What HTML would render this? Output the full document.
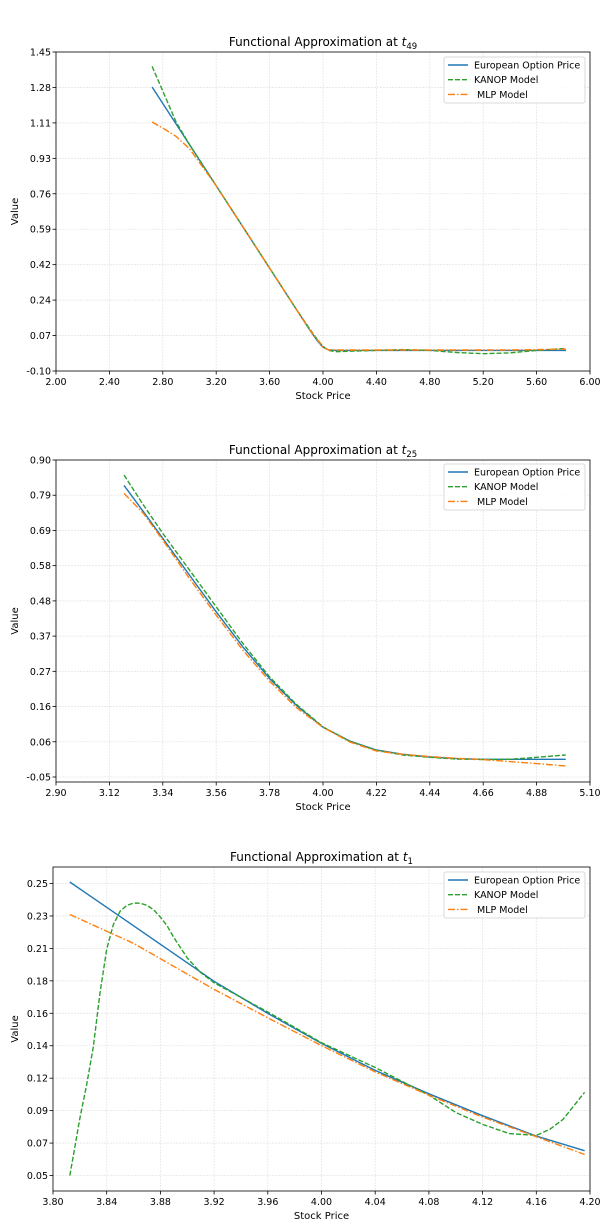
<!DOCTYPE html>
<html><head><meta charset="utf-8"><style>
body{margin:0;background:#fff;}
svg{display:block;font-family:"DejaVu Sans","Liberation Sans",sans-serif;}
</style></head>
<body>
<svg id="fig" width="600" height="1230" viewBox="0 0 600 1230"></svg>
<script>
// Chart 1 (t49)
const c1X=[2.72,2.8,2.9,3.0,3.2,3.4,3.6,3.8,3.9,3.96,4.0,4.04,4.1,4.2,4.4,4.6,4.8,5.0,5.2,5.4,5.6,5.82];
const c1Euro=[1.28,1.20,1.10,1.00,0.80,0.60,0.40,0.20,0.10,0.045,0.015,0.003,0,0,0,0,0,0,0,0,0,0];
const c1Kanop=[1.38,1.26,1.11,1.00,0.80,0.60,0.40,0.20,0.105,0.05,0.02,0.0,-0.006,-0.004,0.0,0.004,0.0,-0.01,-0.016,-0.012,0.0,0.01];
const c1Mlp=[1.11,1.08,1.04,0.98,0.80,0.60,0.40,0.20,0.10,0.05,0.015,0.003,0.002,0.002,0.002,0.002,0.002,0.002,0.002,0.002,0.004,0.006];
const c1XTicks=["2.00","2.40","2.80","3.20","3.60","4.00","4.40","4.80","5.20","5.60","6.00"];
const c1YTicks=["-0.10","0.07","0.24","0.42","0.59","0.76","0.93","1.11","1.28","1.45"];
// Chart 2 (t25)
const c2X=[3.18,3.26,3.34,3.45,3.56,3.67,3.78,3.89,4.0,4.11,4.22,4.33,4.44,4.55,4.66,4.77,4.88,5.0];
const c2Euro=[0.824,0.745,0.665,0.555,0.445,0.340,0.245,0.165,0.099,0.058,0.031,0.018,0.010,0.005,0.003,0.003,0.003,0.003];
const c2Kanop=[0.855,0.765,0.680,0.570,0.460,0.350,0.250,0.168,0.100,0.057,0.030,0.016,0.009,0.004,0.002,0.003,0.009,0.016];
const c2Mlp=[0.800,0.740,0.660,0.545,0.435,0.330,0.237,0.158,0.099,0.055,0.028,0.018,0.011,0.006,0.002,-0.004,-0.010,-0.017];
const c2XTicks=["2.90","3.12","3.34","3.56","3.78","4.00","4.22","4.44","4.66","4.88","5.10"];
const c2YTicks=["-0.05","0.06","0.16","0.27","0.37","0.48","0.58","0.69","0.79","0.90"];
// Chart 3 (t1)
const c3XEuro=[3.8125,3.86,3.92,3.96,4.0,4.04,4.08,4.12,4.16,4.196];
const c3Euro=[0.251,0.221,0.183,0.161,0.1405,0.122,0.106,0.091,0.077,0.067];
const c3Mlp=[0.2288,0.209,0.1775,0.158,0.139,0.121,0.105,0.090,0.0766,0.0644];
const c3XKanop=[3.8125,3.816,3.82,3.825,3.83,3.835,3.84,3.845,3.85,3.855,3.86,3.865,3.87,3.875,3.88,3.885,3.89,3.90,3.91,3.92,3.96,4.00,4.04,4.08,4.10,4.12,4.14,4.16,4.17,4.18,4.196];
const c3Kanop=[0.05,0.068,0.089,0.112,0.138,0.175,0.205,0.222,0.231,0.235,0.2366,0.2365,0.235,0.232,0.227,0.221,0.213,0.199,0.189,0.182,0.162,0.141,0.124,0.105,0.0932,0.085,0.0787,0.0775,0.0816,0.0885,0.107];
const c3XTicks=["3.80","3.84","3.88","3.92","3.96","4.00","4.04","4.08","4.12","4.16","4.20"];
const c3YTicks=["0.05","0.07","0.09","0.12","0.14","0.16","0.18","0.21","0.23","0.25"];

const NS="http://www.w3.org/2000/svg";
const fig=document.getElementById('fig');
function mk(tag,attrs,parent){const e=document.createElementNS(NS,tag);for(const k in attrs)e.setAttribute(k,attrs[k]);(parent||fig).appendChild(e);return e;}

function chart(o){
  const g=mk('g',{});
  
  
  const sx=v=>o.L+(v-o.xmin)/(o.xmax-o.xmin)*(o.R-o.L);
  const sy=v=>o.B-(v-o.ymin)/(o.ymax-o.ymin)*(o.B-o.T);
  const xt0=parseFloat(o.xt[0]),xt1=parseFloat(o.xt[o.xt.length-1]);
  const yt0=parseFloat(o.yt[0]),yt1=parseFloat(o.yt[o.yt.length-1]);
  o.xt.forEach((t,i)=>{const v=xt0+(xt1-xt0)*i/(o.xt.length-1);const x=sx(v);
    const gl=mk('line',{x1:x,x2:x,y1:o.T,y2:o.B,stroke:'#e6e6e6','stroke-width':0.8,'stroke-dasharray':'2,1'},g);
    
    mk('line',{x1:x,x2:x,y1:o.B,y2:o.B+3.5,stroke:'#000','stroke-width':0.8},g);
    const tx=mk('text',{x:x,y:o.B+14,'text-anchor':'middle','font-size':9.5,fill:'#000'},g);tx.textContent=t;
    });
  o.yt.forEach((t,i)=>{const v=yt0+(yt1-yt0)*i/(o.yt.length-1);const y=sy(v);
    const gl=mk('line',{x1:o.L,x2:o.R,y1:y,y2:y,stroke:'#e6e6e6','stroke-width':0.8,'stroke-dasharray':'2,1'},g);
    
    mk('line',{x1:o.L-3.5,x2:o.L,y1:y,y2:y,stroke:'#000','stroke-width':0.8},g);
    const tx=mk('text',{x:o.L-5,y:y+3.5,'text-anchor':'end','font-size':9.5,fill:'#000'},g);tx.textContent=t;
    });
  const series=[[o.ex,o.euro,'#1f77b4','','european-option-price-line'],[o.kx,o.kanop,'#2ca02c','5,2','kanop-model-line'],[o.ex,o.mlp,'#ff7f0e','7,2,1.5,2','mlp-model-line']];
  series.forEach(s=>{const pts=s[0].map((x,i)=>sx(x).toFixed(1)+','+sy(s[1][i]).toFixed(1)).join(' ');
    const p=mk('polyline',{points:pts,fill:'none',stroke:s[2],'stroke-width':1.4,'stroke-dasharray':s[3],'stroke-linejoin':'round'},g);
    });
  const fr=mk('rect',{x:o.L,y:o.T,width:o.R-o.L,height:o.B-o.T,fill:'none',stroke:'#000','stroke-width':0.8},g);
  
  const ti=mk('text',{x:(o.L+o.R)/2,y:o.T-6,'text-anchor':'middle','font-size':12,fill:'#000'},g);
  ti.innerHTML='Functional Approximation at <tspan font-style="italic">t</tspan><tspan font-size="8.5" dy="3">'+o.sub+'</tspan>';
  
  const xl=mk('text',{x:(o.L+o.R)/2,y:o.B+28,'text-anchor':'middle','font-size':10,fill:'#000'},g);xl.textContent='Stock Price';
  
  const ym=(o.T+o.B)/2;
  const yl=mk('text',{x:18,y:ym,'text-anchor':'middle','font-size':10,fill:'#000',transform:'rotate(-90 18 '+ym+')'},g);yl.textContent='Value';
  
  const lg=mk('g',{},g);
  
  mk('rect',{x:444,y:o.lt,width:141,height:46,fill:'#fff','fill-opacity':0.85,stroke:'#d0d0d0','stroke-width':0.8,rx:2},lg);
  const names=['European Option Price','KANOP Model','\u00a0MLP Model'];
  series.forEach((s,i)=>{const y=o.lt+8+i*14.7;
    mk('line',{x1:448,x2:468,y1:y,y2:y,stroke:s[2],'stroke-width':1.4,'stroke-dasharray':s[3]},lg);
    const t=mk('text',{x:474,y:y+3.5,'font-size':9.5,fill:'#000'},lg);t.textContent=names[i];
    });
}
chart({name:'chart-t49',L:56,R:590,T:52,B:371,xmin:2,xmax:6,ymin:-0.10,ymax:1.45,xt:c1XTicks,yt:c1YTicks,ex:c1X,kx:c1X,euro:c1Euro,kanop:c1Kanop,mlp:c1Mlp,sub:'49',lt:57});
chart({name:'chart-t25',L:56,R:590,T:460,B:782,xmin:2.9,xmax:5.1,ymin:-0.065,ymax:0.90,xt:c2XTicks,yt:c2YTicks,ex:c2X,kx:c2X,euro:c2Euro,kanop:c2Kanop,mlp:c2Mlp,sub:'25',lt:464});
chart({name:'chart-t1',L:53,R:590,T:867,B:1191,xmin:3.8,xmax:4.2,ymin:0.0394,ymax:0.2613,xt:c3XTicks,yt:c3YTicks,ex:c3XEuro,kx:c3XKanop,euro:c3Euro,kanop:c3Kanop,mlp:c3Mlp,sub:'1',lt:872});
</script>
</body></html>
